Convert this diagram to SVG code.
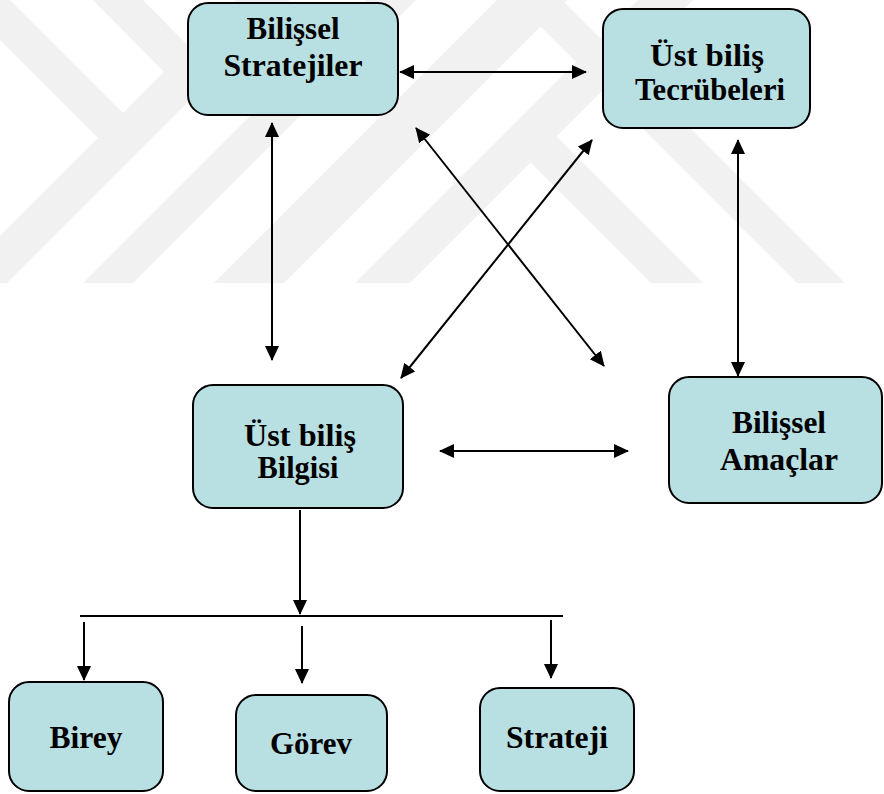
<svg xmlns="http://www.w3.org/2000/svg" width="884" height="794" viewBox="0 0 884 794">
<style>
.box{fill:#b8dfe2;stroke:#000;stroke-width:2}
.t{font-family:"Liberation Serif","Times New Roman",serif;font-weight:bold;font-size:31px;fill:#000;text-anchor:middle}
.c{stroke:#000;stroke-width:2;fill:none}
.wm{fill:#f1f1f1}
</style>
<defs>
<marker id="ah" markerWidth="16" markerHeight="16" refX="14" refY="7" orient="auto-start-reverse" markerUnits="userSpaceOnUse">
<path d="M0,0 L15,7 L0,14 z" fill="#000"/>
</marker>
</defs>
<rect width="884" height="794" fill="#fff"/>
<g id="watermark">
<polygon class="wm" points="0,0 10,0 135,125 110,150 0,40"/>
<polygon class="wm" points="93,0 143,0 201,59 176,84"/>
<polygon class="wm" points="236,0 290,0 7,283 0,283 0,236"/>
<polygon class="wm" points="366,0 416,0 133,283 83,283"/>
<polygon class="wm" points="497,0 567,0 284,283 214,283"/>
<polygon class="wm" points="638,0 693,0 410,283 355,283"/>
<polygon class="wm" points="514,146 540,120 703,283 651,283"/>
<polygon class="wm" points="514,0 562,0 845,283 797,283"/>
</g>
<g id="connectors">
<line class="c" x1="400" y1="72" x2="586" y2="72" marker-start="url(#ah)" marker-end="url(#ah)"/>
<line class="c" x1="272" y1="123" x2="272" y2="360" marker-start="url(#ah)" marker-end="url(#ah)"/>
<line class="c" x1="416" y1="128" x2="604" y2="366" marker-start="url(#ah)" marker-end="url(#ah)"/>
<line class="c" x1="592" y1="140" x2="401" y2="378" marker-start="url(#ah)" marker-end="url(#ah)"/>
<line class="c" x1="738" y1="140" x2="738" y2="376" marker-start="url(#ah)" marker-end="url(#ah)"/>
<line class="c" x1="440" y1="451" x2="628" y2="451" marker-start="url(#ah)" marker-end="url(#ah)"/>
<line class="c" x1="300" y1="510" x2="300" y2="614" marker-end="url(#ah)"/>
<line class="c" x1="80" y1="616" x2="563" y2="616"/>
<line class="c" x1="84" y1="622" x2="84" y2="680" marker-end="url(#ah)"/>
<line class="c" x1="302" y1="626" x2="302" y2="683" marker-end="url(#ah)"/>
<line class="c" x1="551" y1="620" x2="551" y2="678" marker-end="url(#ah)"/>
</g>
<g id="bilissel-stratejiler">
<rect class="box" x="188" y="3" width="210" height="112" rx="20"/>
<text class="t" x="293" y="39" textLength="93" lengthAdjust="spacingAndGlyphs">Bilişsel</text>
<text class="t" x="293" y="76" textLength="139" lengthAdjust="spacingAndGlyphs">Stratejiler</text>
</g>
<g id="ustbilis-tecrubeleri">
<rect class="box" x="603" y="9" width="207" height="119" rx="20"/>
<text class="t" x="707" y="66" textLength="114" lengthAdjust="spacingAndGlyphs">Üst biliş</text>
<text class="t" x="710" y="100" textLength="150" lengthAdjust="spacingAndGlyphs">Tecrübeleri</text>
</g>
<g id="ustbilis-bilgisi">
<rect class="box" x="193" y="385" width="210" height="123" rx="20"/>
<text class="t" x="300" y="446" textLength="112" lengthAdjust="spacingAndGlyphs">Üst biliş</text>
<text class="t" x="298" y="478" textLength="81" lengthAdjust="spacingAndGlyphs">Bilgisi</text>
</g>
<g id="bilissel-amaclar">
<rect class="box" x="669" y="377" width="213" height="126" rx="20"/>
<text class="t" x="779" y="433" textLength="94" lengthAdjust="spacingAndGlyphs">Bilişsel</text>
<text class="t" x="779" y="470" textLength="118" lengthAdjust="spacingAndGlyphs">Amaçlar</text>
</g>
<g id="birey">
<rect class="box" x="9" y="682" width="154" height="109" rx="20"/>
<text class="t" x="86" y="748" textLength="73" lengthAdjust="spacingAndGlyphs">Birey</text>
</g>
<g id="gorev">
<rect class="box" x="236" y="695" width="151" height="96" rx="20"/>
<text class="t" x="311" y="754" textLength="82" lengthAdjust="spacingAndGlyphs">Görev</text>
</g>
<g id="strateji">
<rect class="box" x="480" y="688" width="154" height="103" rx="20"/>
<text class="t" x="557" y="748" textLength="102" lengthAdjust="spacingAndGlyphs">Strateji</text>
</g>
</svg>
